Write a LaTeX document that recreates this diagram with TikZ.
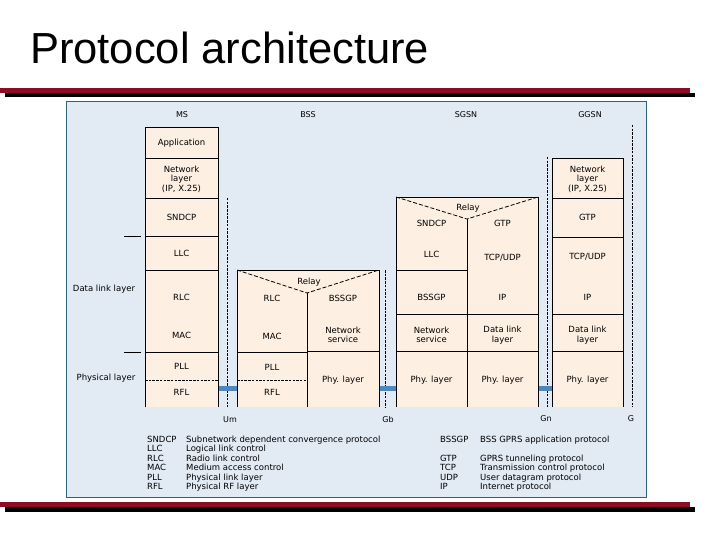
\documentclass[tikz,border=0pt]{standalone}
\usepackage{fontspec}
\setmainfont{DejaVu Sans}
\newfontfamily\titlefont{Liberation Sans}
\definecolor{panel}{HTML}{E2EAF4}
\definecolor{peach}{HTML}{FDF0E3}
\definecolor{panelborder}{HTML}{2F6378}
\definecolor{barred}{HTML}{8C0C24}
\definecolor{ifbar}{HTML}{4D87BE}
\tikzset{
  lay/.style={line width=0.9pt, black},
  relayline/.style={line width=0.8pt, black, dash pattern=on 4pt off 2pt},
  ifline/.style={line width=0.7pt, black, dash pattern=on 2.5pt off 1.2pt},
  phyline/.style={line width=0.7pt, black, dash pattern=on 2.5pt off 1.2pt},
  lbl/.style={inner sep=0pt, font=\fontsize{8.5}{9.6}\selectfont, align=center},
  hdr/.style={inner sep=0pt, font=\fontsize{8}{9.6}\selectfont},
  leg/.style={inner sep=0pt, anchor=base west, font=\fontsize{8.5}{9.6}\selectfont},
}
\begin{document}
\begin{tikzpicture}[x=1pt,y=-1pt]
\useasboundingbox (0,0) rectangle (720,540);
\fill[white] (0,0) rectangle (720,540);
% title
\node[inner sep=0pt, anchor=base west, font=\titlefont\fontsize{43.5}{50}\selectfont] (title) at (30,64) {Protocol architecture};
% rule lines
\fill[barred] (0,88) rectangle (690,93);
\fill[black] (5,93) rectangle (695,97);
\fill[barred] (0,502) rectangle (690,507);
\fill[black] (5,507) rectangle (695,512);
% panel
\draw[panelborder, line width=0.8pt, fill=panel] (66,101) rectangle (646,497);
% headers
\node[hdr] (hMS) at (182,115) {MS};
\node[hdr] (hBSS) at (308,115) {BSS};
\node[hdr] (hSGSN) at (466,115) {SGSN};
\node[hdr] (hGGSN) at (590,115) {GGSN};
% interface lines
\draw[ifline] (227,198) -- (227,407);
\draw[ifline] (385,270) -- (385,407);
\draw[ifline] (547,157) -- (547,407);
\draw[ifline] (632,125) -- (632,407);
% interface bars
\fill[ifbar] (218,386) rectangle (237,391);
\fill[ifbar] (379,386) rectangle (396,391);
\fill[ifbar] (538,386) rectangle (552,391);
% MS stack
\fill[peach] (145,127) rectangle (218,407);
\draw[lay] (145,407) -- (145,127) -- (218,127) -- (218,407);
\foreach \yy in {158,198,236,270,352} \draw[lay] (145,\yy) -- (218,\yy);
\draw[phyline] (145,380) -- (218,380);
\node[lbl] (msApp) at (181.5,143) {Application};
\node[lbl, font=\fontsize{8.5}{9.5}\selectfont] (msNet) at (181.5,179) {Network\\layer\\(IP, X.25)};
\node[lbl] (msSndcp) at (181.5,217) {SNDCP};
\node[lbl] (msLlc) at (181.5,253) {LLC};
\node[lbl] (msRlc) at (181.5,297) {RLC};
\node[lbl] (msMac) at (181.5,335) {MAC};
\node[lbl] (msPll) at (181.5,366) {PLL};
\node[lbl] (msRfl) at (181.5,392) {RFL};
% BSS stack
\fill[peach] (237,270) rectangle (379,407);
\draw[lay] (237,407) -- (237,270) -- (379,270) -- (379,407);
\draw[relayline] (237,270) -- (307,293) -- (379,270);
\draw[lay] (307,293) -- (307,407);
\draw[lay] (237,352) -- (307,352);
\draw[lay] (307,351) -- (379,351);
\draw[phyline] (237,380) -- (307,380);
\node[lbl] (bssRelay) at (309,282) {Relay};
\node[lbl] (bssRlc) at (272,298) {RLC};
\node[lbl] (bssMac) at (272,336) {MAC};
\node[lbl] (bssPll) at (272,367) {PLL};
\node[lbl] (bssRfl) at (272,392) {RFL};
\node[lbl] (bssBssgp) at (343,298) {BSSGP};
\node[lbl, font=\fontsize{8.5}{9.5}\selectfont] (bssNs) at (343,335) {Network\\service};
\node[lbl] (bssPhy) at (343,380) {Phy. layer};
% SGSN stack
\fill[peach] (396,197) rectangle (538,407);
\draw[lay] (396,407) -- (396,197) -- (538,197) -- (538,407);
\draw[relayline] (396,197) -- (467,219) -- (538,197);
\draw[lay] (467,219) -- (467,407);
\draw[lay] (396,270) -- (467,270);
\draw[lay] (396,314) -- (538,314);
\draw[lay] (396,351) -- (538,351);
\node[lbl] (sgRelay) at (468,208) {Relay};
\node[lbl] (sgSndcp) at (431.5,223) {SNDCP};
\node[lbl] (sgLlc) at (431.5,254) {LLC};
\node[lbl] (sgBssgp) at (431.5,297) {BSSGP};
\node[lbl, font=\fontsize{8.5}{9.5}\selectfont] (sgNs) at (431.5,335) {Network\\service};
\node[lbl] (sgPhyA) at (431.5,380) {Phy. layer};
\node[lbl] (sgGtp) at (502.5,223) {GTP};
\node[lbl] (sgTcp) at (502.5,258) {TCP/UDP};
\node[lbl] (sgIp) at (502.5,297) {IP};
\node[lbl, font=\fontsize{8.5}{9.5}\selectfont] (sgDl) at (502.5,335) {Data link\\layer};
\node[lbl] (sgPhyB) at (502.5,380) {Phy. layer};
% GGSN stack
\fill[peach] (552,158) rectangle (623,407);
\draw[lay] (552,407) -- (552,158) -- (623,158) -- (623,407);
\foreach \yy in {198,237,314,351} \draw[lay] (552,\yy) -- (623,\yy);
\node[lbl, font=\fontsize{8.5}{9.5}\selectfont] (ggNet) at (587.5,179) {Network\\layer\\(IP, X.25)};
\node[lbl] (ggGtp) at (587.5,217) {GTP};
\node[lbl] (ggTcp) at (587.5,257) {TCP/UDP};
\node[lbl] (ggIp) at (587.5,297) {IP};
\node[lbl, font=\fontsize{8.5}{9.5}\selectfont] (ggDl) at (587.5,335) {Data link\\layer};
\node[lbl] (ggPhy) at (587.5,380) {Phy. layer};
% interface labels
\node[hdr] (iUm) at (230,420) {Um};
\node[hdr] (iGb) at (388,420) {Gb};
\node[hdr] (iGn) at (546,419) {Gn};
\node[hdr] (iGi) at (631,419) {G};
% side labels
\draw[lay] (124,236) -- (141,236);
\draw[lay] (124,352) -- (141,352);
\node[lbl] (sDl) at (104,289) {Data link layer};
\node[lbl] (sPhy) at (106,378) {Physical layer};
% legend left
\node[leg] (la1) at (147,442) {SNDCP};
\node[leg] (lb1) at (186,442) {Subnetwork dependent convergence protocol};
\node[leg] (la2) at (147,451.5) {LLC};
\node[leg] (lb2) at (186,451.5) {Logical link control};
\node[leg] (la3) at (147,461) {RLC};
\node[leg] (lb3) at (186,461) {Radio link control};
\node[leg] (la4) at (147,470.5) {MAC};
\node[leg] (lb4) at (186,470.5) {Medium access control};
\node[leg] (la5) at (147,480) {PLL};
\node[leg] (lb5) at (186,480) {Physical link layer};
\node[leg] (la6) at (147,489.5) {RFL};
\node[leg] (lb6) at (186,489.5) {Physical RF layer};
% legend right
\node[leg] (ra1) at (440,442) {BSSGP};
\node[leg] (rb1) at (480,442) {BSS GPRS application protocol};
\node[leg] (ra2) at (440,461) {GTP};
\node[leg] (rb2) at (480,461) {GPRS tunneling protocol};
\node[leg] (ra3) at (440,470.5) {TCP};
\node[leg] (rb3) at (480,470.5) {Transmission control protocol};
\node[leg] (ra4) at (440,480) {UDP};
\node[leg] (rb4) at (480,480) {User datagram protocol};
\node[leg] (ra5) at (440,489.5) {IP};
\node[leg] (rb5) at (480,489.5) {Internet protocol};
\end{tikzpicture}
\end{document}
